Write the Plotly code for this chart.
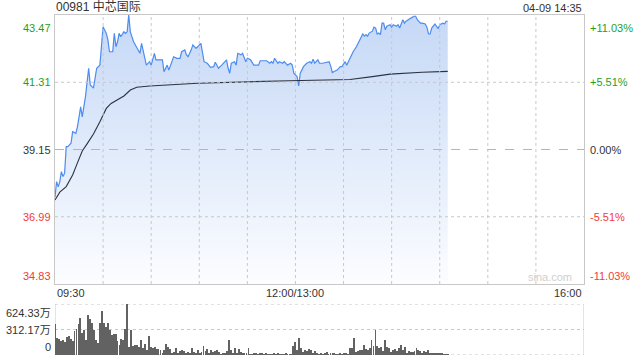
import numpy as np
import plotly.graph_objects as go

# ---------------- data ----------------
prev_close = 39.15
title_text = "00981 中芯国际"
date_text = "04-09 14:35"

price_min = [0, 1, 2, 3, 4, 5, 6, 7, 8, 10, 11, 13, 14, 16, 17, 18, 19, 21, 22, 24, 26, 28, 29, 30, 32, 33, 34, 36, 37, 38,
             39, 40, 41, 43, 44, 45, 46, 47, 49, 50, 51, 53, 54, 56, 57, 59, 60, 62, 63, 65, 67, 68, 70, 71, 73, 74, 76, 78, 79, 81,
             82, 83, 85, 86, 88, 91, 93, 95, 97, 99, 100, 102, 104, 107, 108, 109, 110, 112, 113, 114, 116, 117, 119, 120, 122, 124, 127, 128, 132, 134,
             135, 136, 137, 139, 140, 142, 143, 145, 147, 148, 149, 151, 152, 153, 155, 157, 159, 160, 161, 162, 164, 165, 167, 169, 171, 172, 173, 175, 176, 178,
             179, 181, 182, 183, 185, 186, 188, 189, 190, 192, 193, 194, 195, 196, 198, 199, 200, 201, 202, 203, 204, 205, 206, 207, 209, 210, 211, 213, 214, 215,
             217, 218, 219, 221, 222, 224, 225, 226, 227, 228, 229, 231, 232, 233, 234, 235, 237, 238, 239, 240, 242, 243, 244, 245]
price_val = [37.62, 38.12, 37.95, 38.12, 38.44, 38.28, 38.39, 39.24, 39.24, 39.35, 39.72, 39.67, 39.88, 40.52, 40.20, 40.47, 40.85, 41.76, 41.22, 41.12, 41.76, 41.86, 42.56, 43.09, 42.88, 42.67, 42.29, 42.29, 42.88, 42.45,
             42.61, 42.88, 42.77, 42.93, 42.88, 42.93, 43.47, 42.93, 42.61, 42.51, 42.40, 42.24, 42.56, 42.03, 41.86, 41.97, 41.86, 42.24, 42.03, 42.03, 42.03, 41.65, 41.86, 41.70, 41.97, 42.13, 42.08, 42.08, 42.29, 42.35,
             42.19, 42.13, 42.35, 42.51, 42.40, 42.56, 41.97, 41.92, 41.79, 41.81, 41.95, 41.76, 41.86, 42.03, 41.76, 41.60, 41.92, 41.97, 41.86, 42.24, 42.19, 42.24, 41.97, 42.08, 42.03, 41.86, 41.86, 42.00, 42.00, 41.92,
             41.97, 41.92, 42.08, 41.92, 41.97, 41.92, 41.97, 41.86, 41.92, 41.86, 41.60, 41.49, 41.19, 41.60, 41.81, 41.92, 41.97, 41.92, 42.05, 41.92, 42.03, 41.92, 41.92, 41.95, 41.97, 41.83, 41.62, 41.68, 41.70, 41.81,
             41.81, 41.97, 41.86, 41.97, 42.19, 42.29, 42.45, 42.56, 42.68, 42.86, 42.79, 42.84, 42.79, 42.89, 42.95, 43.08, 43.05, 42.86, 42.89, 42.84, 43.21, 43.21, 43.00, 43.11, 43.16, 43.08, 43.16, 43.11, 43.16, 43.05,
             43.32, 43.21, 43.27, 43.32, 43.37, 43.43, 43.43, 43.32, 43.27, 43.21, 43.21, 43.18, 43.08, 42.86, 42.86, 43.05, 43.18, 43.11, 43.03, 43.16, 43.21, 43.18, 43.27, 43.27]

avg_min = [0, 3, 7, 11, 14, 17, 20, 24, 28, 32, 35, 39, 43, 47, 51, 59, 73, 89, 146, 184, 198, 209, 229, 245]
avg_val = [37.53, 37.78, 37.96, 38.33, 38.72, 39.10, 39.33, 39.65, 40.04, 40.47, 40.63, 40.75, 40.87, 41.06, 41.15, 41.19, 41.24, 41.28, 41.36, 41.40, 41.49, 41.57, 41.63, 41.66]

# volume (万股), one bar per sample across 09:30 - 14:35
volume = [375, 208, 196, 166, 187, 162, 221, 229, 196, 175,
          291, 320, 375, 458, 271, 312, 187, 487, 437, 387,
          304, 179, 146, 387, 533, 395, 345, 387, 312, 250,
          262, 262, 166, 125, 196, 187, 320, 624, 104, 312,
          112, 125, 125, 104, 187, 83, 137, 62, 237, 104,
          83, 96, 71, 71, 62, 21, 62, 137, 96, 71,
          21, 42, 83, 21, 54, 62, 54, 29, 42, 21,
          83, 42, 29, 62, 29, 42, 112, 54, 71, 29,
          62, 42, 54, 62, 42, 12, 21, 21, 54, 187,
          62, 21, 83, 29, 71, 42, 29, 21, 21, 83,
          12, 8, 21, 29, 12, 21, 29, 8, 29, 8,
          12, 8, 21, 12, 21, 8, 8, 12, 29, 8,
          8, 12, 112, 154, 62, 208, 83, 42, 62, 54,
          71, 62, 29, 54, 21, 12, 29, 12, 29, 42,
          12, 29, 21, 21, 8, 12, 21, 8, 29, 21,
          12, 83, 83, 208, 42, 54, 62, 62, 125, 71,
          62, 83, 187, 112, 312, 112, 83, 104, 54, 187,
          96, 83, 42, 62, 71, 54, 83, 125, 62, 96,
          29, 54, 42, 42, 54, 83, 62, 54, 29, 54,
          42, 62, 29, 21, 29, 21, 21, 29, 29, 12,
          8, 8]

price_ticks = [43.47, 41.31, 39.15, 36.99, 34.83]
price_labels = ["43.47", "41.31", "39.15", "36.99", "34.83"]
pct_labels = ["+11.03%", "+5.51%", "0.00%", "-5.51%", "-11.03%"]
vol_ticks = [624.33, 312.17, 0]
vol_labels = ["624.33万", "312.17万", "0"]
time_ticks = [0, 150, 330]
time_labels = ["09:30", "12:00/13:00", "16:00"]
grid_minutes = [30, 60, 90, 120, 150, 180, 210, 240, 270, 300]
session_len = 330          # trading minutes shown on the axis
last_min = 245             # 14:35

vol_min = np.linspace(0, last_min, len(volume))

# ---------------- style ----------------
GREEN = "#1f9f1f"
RED = "#f23b3b"
DARK = "#333333"
GRID = "#c8c8c8"
FONT = "Arial, Liberation Sans, Noto Sans CJK SC, sans-serif"
label_col = [GREEN, GREEN, DARK, RED, RED]
MAIN_DOM = [71 / 340, 1.0]
VOL_DOM = [0.0, 51 / 340]

fig = go.Figure()

fig.add_trace(go.Scatter(
    x=price_min, y=price_val, mode="lines",
    line=dict(color="#4d8cf0", width=1.2),
    fill="tozeroy",
    fillgradient=dict(type="vertical",
                      colorscale=[[0, "#fcfdff"], [1, "#c5d8f6"]],
                      start=price_ticks[-1], stop=price_ticks[0]),
    hoverinfo="skip", xaxis="x", yaxis="y"))

fig.add_trace(go.Scatter(
    x=avg_min, y=avg_val, mode="lines",
    line=dict(color="#2b3340", width=1.1),
    hoverinfo="skip", xaxis="x", yaxis="y"))

fig.add_trace(go.Bar(
    x=vol_min, y=volume, width=0.55, marker=dict(color="#626262", line=dict(width=0)),
    hoverinfo="skip", xaxis="x2", yaxis="y2"))

fig.update_layout(
    width=640, height=360,
    margin=dict(l=55, r=56, t=15, b=5),
    paper_bgcolor="white", plot_bgcolor="rgba(0,0,0,0)",
    showlegend=False, bargap=0,
    font=dict(family=FONT, size=11, color=DARK),
    xaxis=dict(domain=[0, 1], range=[0, session_len], anchor="y",
               showticklabels=False, ticks="", showgrid=False,
               showline=True, linecolor=GRID, linewidth=1, mirror=True, zeroline=False),
    yaxis=dict(domain=MAIN_DOM, range=[price_ticks[-1], price_ticks[0]], anchor="x",
               showticklabels=False, ticks="", showgrid=False,
               showline=True, linecolor=GRID, linewidth=1, mirror=True, zeroline=False),
    xaxis2=dict(domain=[0, 1], range=[0, session_len], anchor="y2",
                showticklabels=False, ticks="", showgrid=False, zeroline=False,
                showline=False),
    yaxis2=dict(domain=VOL_DOM, range=[0, vol_ticks[0]], anchor="x2",
                showticklabels=False, ticks="", showgrid=False, zeroline=False,
                showline=False),
)

shapes = []
# main grid (drawn above the area fill, as in the reference)
for xv in grid_minutes:
    shapes.append(dict(type="line", xref="x", yref="y", x0=xv, x1=xv,
                       y0=price_ticks[-1], y1=price_ticks[0],
                       line=dict(color=GRID, width=1, dash="dot"), layer="above"))
for yv in [price_ticks[1], price_ticks[3]]:
    shapes.append(dict(type="line", xref="x", yref="y", x0=0, x1=session_len, y0=yv, y1=yv,
                       line=dict(color=GRID, width=1, dash="dot"), layer="above"))
shapes.append(dict(type="line", xref="x", yref="y", x0=0, x1=session_len, y0=prev_close, y1=prev_close,
                   line=dict(color="#b5b5b5", width=1, dash="dash"), layer="above"))
# volume panel frame
for yv in vol_ticks:
    shapes.append(dict(type="line", xref="x2", yref="y2", x0=0, x1=session_len, y0=yv, y1=yv,
                       line=dict(color=GRID, width=1.2, dash="dot"), layer="below"))
for xv in [0, session_len]:
    shapes.append(dict(type="line", xref="x2", yref="y2", x0=xv, x1=xv, y0=0, y1=vol_ticks[0],
                       line=dict(color=GRID, width=1), layer="below"))
fig.update_layout(shapes=shapes)

ann = []
n = len(price_ticks)
for i, (v, lab, pct, col) in enumerate(zip(price_ticks, price_labels, pct_labels, label_col)):
    if i == 0:
        ya, ys = "top", -5
    elif i == n - 1:
        ya, ys = "bottom", 0
    else:
        ya, ys = "middle", 0
    ann.append(dict(xref="paper", yref="y", x=0, y=v, text=lab, showarrow=False,
                    xanchor="right", yanchor=ya, yshift=ys, xshift=-2,
                    font=dict(color=col, size=11)))
    ann.append(dict(xref="paper", yref="y", x=1, y=v, text=pct, showarrow=False,
                    xanchor="left", yanchor=ya, yshift=ys, xshift=4,
                    font=dict(color=col, size=11)))
for i, (v, lab) in enumerate(zip(vol_ticks, vol_labels)):
    ya = "top" if i == 0 else ("middle" if i == 1 else "bottom")
    ann.append(dict(xref="paper", yref="y2", x=0, y=v, text=lab, showarrow=False,
                    xanchor="right", yanchor=ya, xshift=-2, yshift=(-1 if i == 0 else 0),
                    font=dict(color=DARK, size=11)))
for v, lab in zip(time_ticks, time_labels):
    xa = "left" if v == 0 else ("right" if v == session_len else "center")
    ann.append(dict(xref="x", yref="paper", x=v, y=MAIN_DOM[0], text=lab, showarrow=False,
                    xanchor=xa, yanchor="top", yshift=-1,
                    font=dict(color=DARK, size=11)))
ann.append(dict(xref="paper", yref="paper", x=0, y=1, text=title_text, showarrow=False,
                xanchor="left", yanchor="bottom", xshift=-1, yshift=-1,
                font=dict(color=DARK, size=12)))
ann.append(dict(xref="paper", yref="paper", x=1, y=1, text=date_text, showarrow=False,
                xanchor="right", yanchor="bottom", yshift=-1,
                font=dict(color=DARK, size=11)))
ann.append(dict(xref="paper", yref="y", x=1, y=price_ticks[-1], text="sina.com", showarrow=False,
                xanchor="right", yanchor="bottom", xshift=-10, yshift=-1,
                font=dict(color="#cfcfcf", size=11)))
fig.update_layout(annotations=ann)

fig.write_html("out.html")
